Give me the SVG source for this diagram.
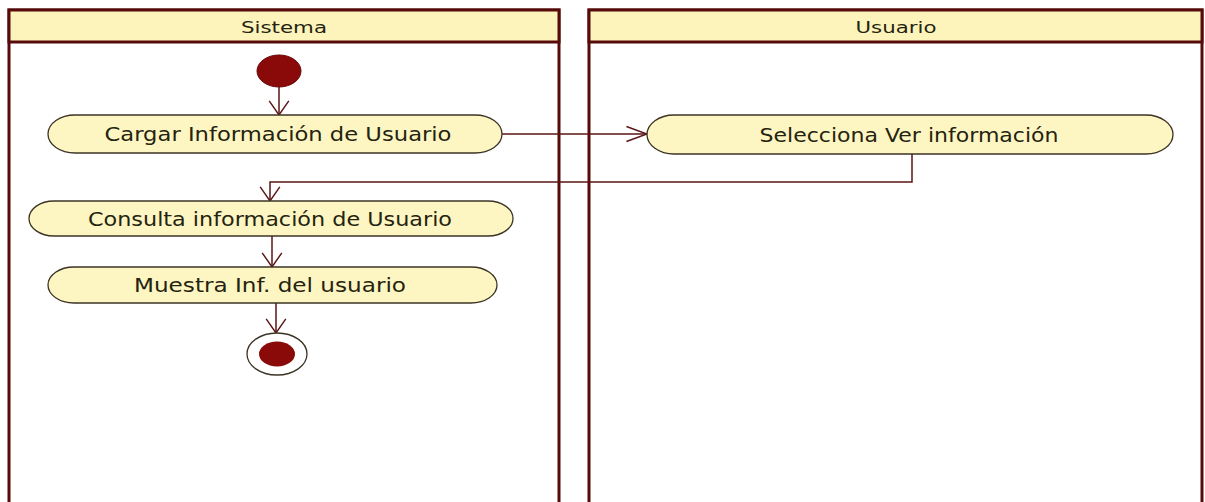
<svg xmlns="http://www.w3.org/2000/svg" width="1205" height="502" viewBox="0 0 1205 502">
<style>
.lane{fill:#ffffff;stroke:#560b0b;stroke-width:3}
.head{fill:#fdf4bc;stroke:#560b0b;stroke-width:3}
.act{fill:#fef6c2;stroke:#3b3324;stroke-width:1.3}
.t{font-family:"DejaVu Sans","Liberation Sans",sans-serif;fill:#24230f;text-anchor:middle}
.ht{font-size:16.5px}
.at{font-size:19px}
.conn{fill:none;stroke:#5a1515;stroke-width:1.5}
.mk{fill:none;stroke:#5a1515;stroke-width:1.3}
</style>
<defs>
<marker id="arrowV" markerUnits="userSpaceOnUse" markerWidth="20" markerHeight="24" viewBox="-1 -11 16 22" refX="13" refY="0" orient="auto">
<path class="mk" d="M0,-9 L13,0 L0,9"/>
</marker>
<marker id="arrowH" markerUnits="userSpaceOnUse" markerWidth="24" markerHeight="20" viewBox="-1 -8 21 16" refX="18" refY="0" orient="auto">
<path class="mk" d="M0,-6.5 L18,0 L0,6.5"/>
</marker>
</defs>
<rect width="1205" height="502" fill="#ffffff"/>
<g id="lane-sistema">
<rect class="lane" x="9" y="10" width="550" height="500"/>
<rect class="head" x="9" y="10" width="550" height="32"/>
<text class="t ht" x="284" y="33" textLength="86" lengthAdjust="spacingAndGlyphs">Sistema</text>
</g>
<g id="lane-usuario">
<rect class="lane" x="589" y="10" width="613" height="500"/>
<rect class="head" x="589" y="10" width="613" height="32"/>
<text class="t ht" x="896" y="33" textLength="81" lengthAdjust="spacingAndGlyphs">Usuario</text>
</g>
<g id="connectors">
<path class="conn" d="M279,87 L279,115" marker-end="url(#arrowV)"/>
<path class="conn" d="M502,134 L647,134" marker-end="url(#arrowH)"/>
<path class="conn" d="M912,154 L912,182 L270,182 L270,201" marker-end="url(#arrowV)"/>
<path class="conn" d="M272,236 L272,267" marker-end="url(#arrowV)"/>
<path class="conn" d="M276,303 L276,333" marker-end="url(#arrowV)"/>
</g>
<g id="start">
<ellipse cx="279" cy="71" rx="22" ry="16" fill="#8a0a0a" stroke="#6a0808" stroke-width="1"/>
</g>
<g id="cargar">
<rect class="act" x="48" y="115" width="454" height="38" rx="27" ry="19"/>
<text class="t at" x="278" y="141" textLength="347" lengthAdjust="spacingAndGlyphs">Cargar Información de Usuario</text>
</g>
<g id="selecciona">
<rect class="act" x="647" y="115" width="526" height="39" rx="27" ry="19.5"/>
<text class="t at" x="909" y="141.5" textLength="299" lengthAdjust="spacingAndGlyphs">Selecciona Ver información</text>
</g>
<g id="consulta">
<rect class="act" x="29" y="201" width="484" height="35" rx="25" ry="17.5"/>
<text class="t at" x="270" y="225.5" textLength="364" lengthAdjust="spacingAndGlyphs">Consulta información de Usuario</text>
</g>
<g id="muestra">
<rect class="act" x="48" y="267" width="449" height="36" rx="26" ry="18"/>
<text class="t at" x="270" y="292" textLength="272" lengthAdjust="spacingAndGlyphs">Muestra Inf. del usuario</text>
</g>
<g id="final">
<ellipse cx="277" cy="354" rx="30" ry="21" fill="#ffffff" stroke="#3b3324" stroke-width="1.3"/>
<ellipse cx="277" cy="354" rx="18" ry="12.5" fill="#8a0a0a"/>
</g>
</svg>
